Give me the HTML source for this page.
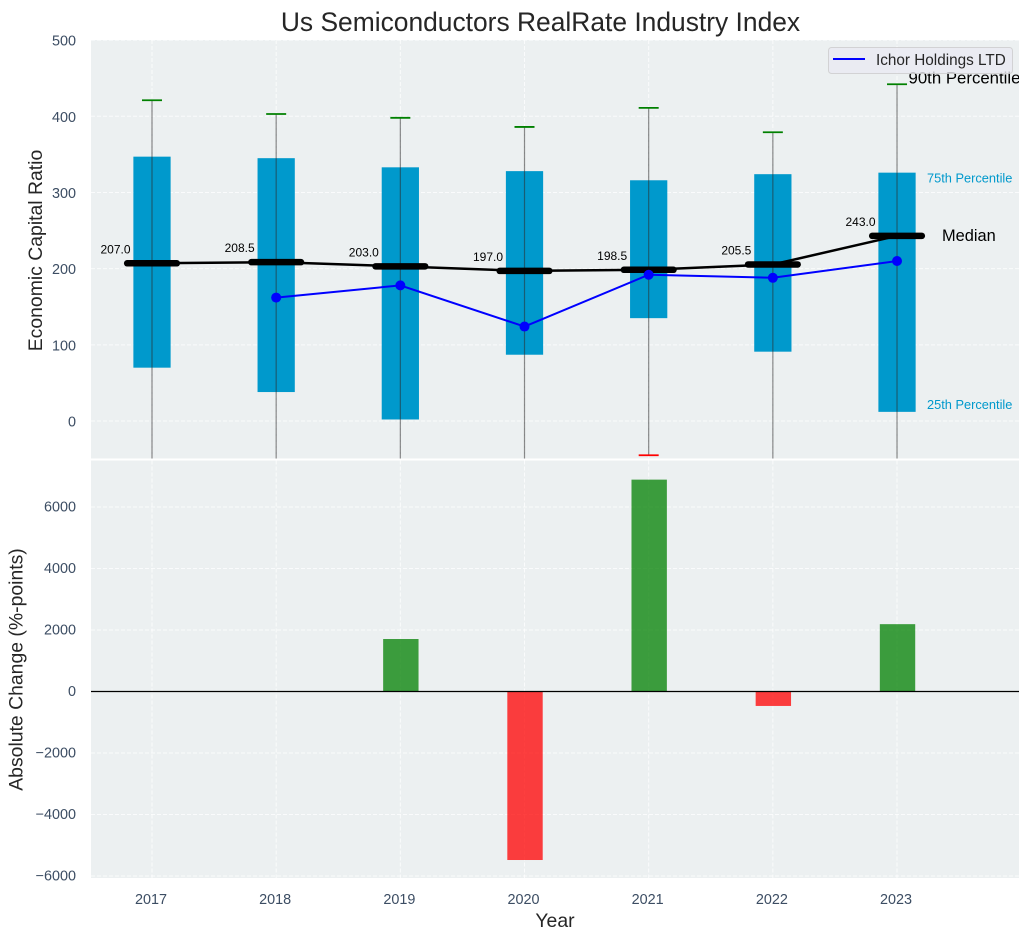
<!DOCTYPE html>
<html>
<head>
<meta charset="utf-8">
<title>Us Semiconductors RealRate Industry Index</title>
<style>
html,body{margin:0;padding:0;background:#fff;}
svg{display:block;font-family:"Liberation Sans",Arial,sans-serif;}
</style>
</head>
<body>
<svg id="chart" xmlns="http://www.w3.org/2000/svg" width="1030" height="940" viewBox="0 0 1030 940">
<defs>
<clipPath id="top-clip"><rect x="91" y="40" width="928" height="418.5"/></clipPath>
<clipPath id="bottom-clip"><rect x="91" y="460.5" width="928" height="417.5"/></clipPath>
</defs>
<text x="540.5" y="31" text-anchor="middle" font-size="26.4" fill="#262626">Us Semiconductors RealRate Industry Index</text>
<rect x="91" y="40" width="928" height="418.5" fill="#ecf0f1"/>
<rect x="91" y="460.5" width="928" height="417.5" fill="#ecf0f1"/>
<g id="top-grid"></g>
<g id="bottom-grid"></g>
<g id="top-marks" clip-path="url(#top-clip)"></g>
<g id="bottom-marks" clip-path="url(#bottom-clip)"></g>
<g id="tick-labels" fill="#3c4d63" font-size="14.4"></g>
<text transform="translate(42,250.5) rotate(-90)" text-anchor="middle" font-size="19.4" fill="#262626">Economic Capital Ratio</text>
<text transform="translate(22.5,669.5) rotate(-90)" text-anchor="middle" font-size="19.4" fill="#262626">Absolute Change (%-points)</text>
<text x="555" y="927" text-anchor="middle" font-size="19.4" fill="#262626">Year</text>
<g>
<rect x="828.5" y="47.5" width="184" height="26" rx="3" fill="#eaeaf2" fill-opacity="0.8" stroke="#cccccc" stroke-opacity="0.8"/>
<line x1="833" y1="59" x2="865" y2="59" stroke="#0000ff" stroke-width="2"/>
<text x="876" y="65" font-size="15.3" fill="#262626">Ichor Holdings LTD</text>
</g>
<script>
const years = [2017, 2018, 2019, 2020, 2021, 2022, 2023];
const q25 = [70, 38, 2, 87, 135, 91, 12];
const q75 = [347, 345, 333, 328, 316, 324, 326];
const p90 = [421, 403, 398, 386, 411, 379, 442];
const p10 = [-100, -100, -100, -100, -45, -100, -100];
const medians = [207.0, 208.5, 203.0, 197.0, 198.5, 205.5, 243.0];
const ichorYears = [2018, 2019, 2020, 2021, 2022, 2023];
const ichorValues = [162, 178, 124, 192, 188, 210];
const changeYears = [2019, 2020, 2021, 2022, 2023];
const changeValues = [1707, -5480, 6890, -470, 2190];
const topTicks = [500, 400, 300, 200, 100, 0];
const bottomTicks = [6000, 4000, 2000, 0, -2000, -4000, -6000];

const NS = 'http://www.w3.org/2000/svg';
const x = v => 152 + (v - 2017) * 124.17;
const yTop = v => 421 - v * 0.7618;
const yBot = v => 691.5 - v * 0.03075;
const boxW = 0.3, barW = 0.285, medHalf = 0.2;

function make(parent, tag, props, txt) {
  const el = document.createElementNS(NS, tag);
  for (const k in props) el.setAttribute(k, props[k]);
  if (txt !== undefined) el.textContent = txt;
  parent.appendChild(el);
  return el;
}
const topGrid = document.getElementById('top-grid');
const botGrid = document.getElementById('bottom-grid');
const topMarks = document.getElementById('top-marks');
const botMarks = document.getElementById('bottom-marks');
const labels = document.getElementById('tick-labels');
const gridStyle = {stroke:'#ffffff','stroke-opacity':0.75,'stroke-width':1,'stroke-dasharray':'4 2'};

topTicks.forEach(t => {
  const g = make(topGrid, 'line', {x1:91,x2:1019,y1:yTop(t),y2:yTop(t),...gridStyle});
  
  
  const l = make(labels, 'text', {x:76,y:yTop(t)+5.5,'text-anchor':'end'}, String(t));
  
  
});
bottomTicks.forEach(t => {
  const g = make(botGrid, 'line', {x1:91,x2:1019,y1:yBot(t),y2:yBot(t),...gridStyle});
  
  
  const s = t < 0 ? '\u2212' + Math.abs(t) : String(t);
  const l = make(labels, 'text', {x:76,y:yBot(t)+4.7,'text-anchor':'end'}, s);
  
  
});
years.forEach(yr => {
  const g1 = make(topGrid, 'line', {x1:x(yr),x2:x(yr),y1:40,y2:458.5,...gridStyle});
  
  
  const g2 = make(botGrid, 'line', {x1:x(yr),x2:x(yr),y1:460.5,y2:878,...gridStyle});
  
  
  const l = make(labels, 'text', {x:x(yr)-1,y:904,'text-anchor':'middle'}, String(yr));
  
  
});

years.forEach((yr, i) => {
  const half = boxW / 2 * 124.17;
  const box = make(topMarks, 'rect', {x:x(yr)-half,y:yTop(q75[i]),width:half*2,height:yTop(q25[i])-yTop(q75[i]),fill:'#0099cc'});
  
  
  const w = make(topMarks, 'line', {x1:x(yr),x2:x(yr),y1:yTop(p90[i]),y2:yTop(p10[i]),stroke:'#2b2b2b','stroke-opacity':0.55,'stroke-width':1.2});
  
  
  const c1 = make(topMarks, 'line', {x1:x(yr)-10,x2:x(yr)+10,y1:yTop(p90[i]),y2:yTop(p90[i]),stroke:'#008000','stroke-width':1.8});
  
  
  const c2 = make(topMarks, 'line', {x1:x(yr)-10,x2:x(yr)+10,y1:yTop(p10[i]),y2:yTop(p10[i]),stroke:'#ff0000','stroke-width':1.8});
  
  
});

const medLine = make(topMarks, 'polyline', {points:years.map((yr,i)=>x(yr)+','+yTop(medians[i])).join(' '),fill:'none',stroke:'#000000','stroke-width':2.5});


years.forEach((yr, i) => {
  const m = make(topMarks, 'line', {x1:x(yr-medHalf),x2:x(yr+medHalf),y1:yTop(medians[i]),y2:yTop(medians[i]),stroke:'#000000','stroke-width':6.5,'stroke-linecap':'round'});
  
  
  const t = make(topMarks, 'text', {x:x(yr)-21.5,y:yTop(medians[i])-10,'text-anchor':'end','font-size':12,fill:'#000000'}, medians[i].toFixed(1));
  
  
});

const ichor = make(topMarks, 'polyline', {points:ichorYears.map((yr,i)=>x(yr)+','+yTop(ichorValues[i])).join(' '),fill:'none',stroke:'#0000ff','stroke-width':2});


ichorYears.forEach((yr, i) => {
  const p = make(topMarks, 'circle', {cx:x(yr),cy:yTop(ichorValues[i]),r:5,fill:'#0000ff'});
  
  
});

const last = years.length - 1;
const a90 = make(topMarks, 'text', {x:x(years[last])+11.5,y:yTop(p90[last])-1,'font-size':16.8,fill:'#000000'}, '90th Percentile');


const a75 = make(topMarks, 'text', {x:x(years[last])+30,y:yTop(q75[last])+10,'font-size':12.8,fill:'#0099cc'}, '75th Percentile');


const a50 = make(topMarks, 'text', {x:x(years[last])+45,y:yTop(medians[last])+5,'font-size':16.4,fill:'#000000'}, 'Median');


const a25 = make(topMarks, 'text', {x:x(years[last])+30,y:yTop(q25[last])-3,'font-size':12.8,fill:'#0099cc'}, '25th Percentile');



changeYears.forEach((yr, i) => {
  const v = changeValues[i];
  const half = barW / 2 * 124.17;
  const top = Math.min(yBot(v), yBot(0));
  const b = make(botMarks, 'rect', {x:x(yr)-half+0.5,y:top,width:half*2,height:Math.abs(yBot(v)-yBot(0)),fill:v>=0?'#008000':'#ff0000','fill-opacity':0.75});
  
  
});
const zero = make(botMarks, 'line', {x1:91,x2:1019,y1:yBot(0),y2:yBot(0),stroke:'#000000','stroke-width':1.2});


</script>
</svg>
</body>
</html>
